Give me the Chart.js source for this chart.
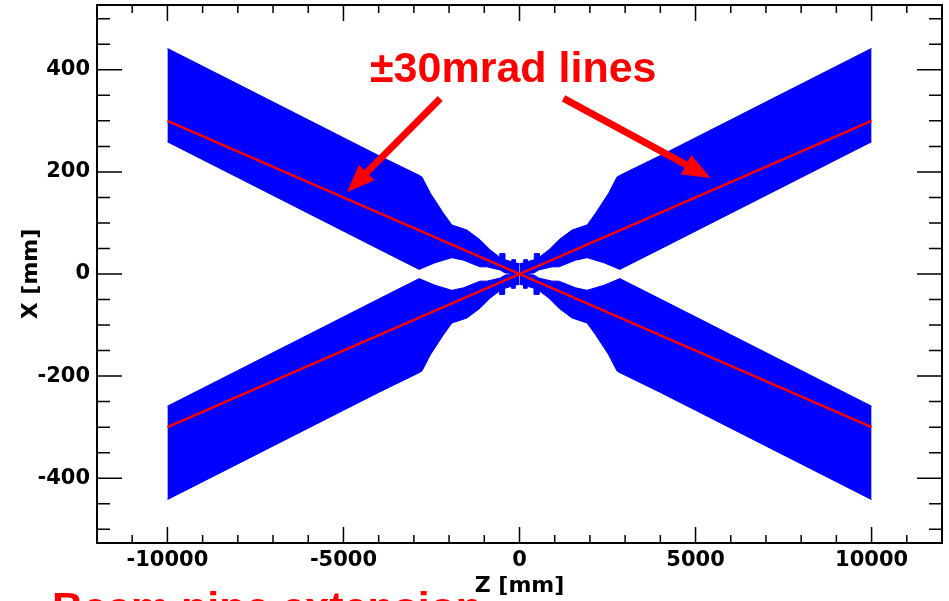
<!DOCTYPE html>
<html>
<head>
<meta charset="utf-8">
<script src="https://cdn.jsdelivr.net/npm/chart.js@4.4.1/dist/chart.umd.min.js"></script>
<style>
  html, body { margin: 0; padding: 0; background: #fff; }
  #wrap { width: 949px; height: 601px; position: relative; }
</style>
</head>
<body>
<div id="wrap"><canvas id="plot"></canvas></div>
<script>
// axis ranges + tick labels
var zRange = [-12000, 12000];
var xRange = [-527, 527];
var zTicks = [-10000, -5000, 0, 5000, 10000];
var xTicks = [-400, -200, 0, 200, 400];

// upper-left band (Z<0, X>0): outer edge
var outerZ = [-10000, -8000, -6000, -5000, -4000, -2870, -2770, -2530, -2160, -1920, -1700, -1490, -1120, -830, -600, -560, -560, -420, -420, -220, -220, -120, -120, 0];
var outerX = [442, 372, 302, 267, 232, 194, 190, 158, 119, 96, 91, 86, 67, 47, 35, 33, 40, 40, 28, 24, 28, 28, 22, 20];
// upper-left band: inner edge
var innerZ = [-10000, -8000, -6000, -4000, -2850, -2400, -1920, -1590, -1120, -925, -550, -405, 0];
var innerX = [259, 189, 119, 49, 9, 22, 32, 27, 14, 14, 8, 2, 0];

// +-30 mrad lines
var mradZ = [-10000, 10000];
var mradPlus = [-300, 300];
var mradMinus = [300, -300];

// annotation arrows (tail -> tip), data coords
var arrowTailZ = [-2250, 1250];
var arrowTailX = [344, 344];
var arrowTipZ = [-4900, 5430];
var arrowTipX = [160, 188];

var BLUE = '#0000ff';
var RED = '#ff0000';

// sz/sx = +1/-1 to mirror the band into the other quadrants
function edge(zs, xs, sz, sx) {
  var p = zs.map(function (z, i) { return { x: z * sz, y: xs[i] * sx }; });
  return sz < 0 ? p.reverse() : p;
}

var datasets = [
  { data: edge(mradZ, mradPlus, 1, 1), borderColor: RED, borderWidth: 2.5, fill: false, order: 0 },
  { data: edge(mradZ, mradMinus, 1, 1), borderColor: RED, borderWidth: 2.5, fill: false, order: 0 }
];
[[1, 1], [-1, 1], [1, -1], [-1, -1]].forEach(function (m) {
  datasets.push({ data: edge(outerZ, outerX, m[0], m[1]), borderColor: BLUE, backgroundColor: BLUE, borderWidth: 1, fill: '+1', order: 1 });
  datasets.push({ data: edge(innerZ, innerX, m[0], m[1]), borderColor: BLUE, borderWidth: 1, fill: false, order: 1 });
});

function drawArrow(ctx, x0, y0, x1, y1) {
  var dx = x1 - x0, dy = y1 - y0, L = Math.hypot(dx, dy);
  var ux = dx / L, uy = dy / L;
  var hl = 28, hw = 11;
  var bx = x1 - ux * hl, by = y1 - uy * hl;
  ctx.lineWidth = 7;
  ctx.lineCap = 'butt';
  ctx.beginPath();
  ctx.moveTo(x0, y0);
  ctx.lineTo(bx + ux * 2, by + uy * 2);
  ctx.stroke();
  ctx.beginPath();
  ctx.moveTo(x1, y1);
  ctx.lineTo(bx - uy * hw, by + ux * hw);
  ctx.lineTo(bx + uy * hw, by - ux * hw);
  ctx.closePath();
  ctx.fill();
}

// ROOT-like frame with inward ticks + the red annotations
var rootFrame = {
  id: 'rootFrame',
  afterDraw: function (chart) {
    var ctx = chart.ctx, a = chart.chartArea;
    var sx = chart.scales.x, sy = chart.scales.y;
    ctx.save();
    ctx.strokeStyle = '#000';
    ctx.lineWidth = 1.5;
    ctx.beginPath();
    for (var z = -12000; z <= 12000; z += 1000) {
      var px = sx.getPixelForValue(z);
      var len = (z % 5000 === 0) ? 16 : 8;
      ctx.moveTo(px, a.bottom); ctx.lineTo(px, a.bottom - len);
      ctx.moveTo(px, a.top); ctx.lineTo(px, a.top + len);
    }
    for (var v = -500; v <= 500; v += 50) {
      var py = sy.getPixelForValue(v);
      var l2 = (v % 200 === 0) ? 25 : 13;
      ctx.moveTo(a.left, py); ctx.lineTo(a.left + l2, py);
      ctx.moveTo(a.right, py); ctx.lineTo(a.right - l2, py);
    }
    ctx.stroke();
    ctx.lineWidth = 2;
    ctx.strokeRect(a.left, a.top, a.right - a.left, a.bottom - a.top);

    ctx.fillStyle = RED;
    ctx.strokeStyle = RED;
    for (var i = 0; i < arrowTailZ.length; i++) {
      drawArrow(ctx,
        sx.getPixelForValue(arrowTailZ[i]), sy.getPixelForValue(arrowTailX[i]),
        sx.getPixelForValue(arrowTipZ[i]), sy.getPixelForValue(arrowTipX[i]));
    }
    ctx.font = 'bold 43px "Liberation Sans", Arial, sans-serif';
    ctx.textBaseline = 'alphabetic';
    ctx.textAlign = 'left';
    ctx.fillText('\u00b130mrad lines', 370, 82);
    ctx.fillText('Beam pipe extension', 52, 622);
    ctx.restore();
  }
};

var tickFont = { family: 'DejaVu Sans', weight: 'bold', size: 21 };
var titleFont = { family: 'DejaVu Sans', weight: 'bold', size: 22 };
function plainLabel(v) { return String(v); }

new Chart(document.getElementById('plot'), {
  type: 'line',
  data: { datasets: datasets },
  plugins: [rootFrame],
  options: {
    responsive: true,
    maintainAspectRatio: false,
    animation: false,
    events: [],
    layout: { padding: { left: 0, right: 7, top: 5, bottom: 0 } },
    elements: { point: { radius: 0 }, line: { tension: 0 } },
    plugins: { legend: { display: false }, tooltip: { enabled: false } },
    scales: {
      x: {
        type: 'linear',
        min: zRange[0], max: zRange[1],
        afterBuildTicks: function (s) { s.ticks = zTicks.map(function (v) { return { value: v }; }); },
        afterFit: function (s) { s.height = 58; s.paddingLeft = 0; s.paddingRight = 0; },
        grid: { display: false, drawTicks: false },
        border: { display: false },
        ticks: { font: tickFont, color: '#000', padding: 5, maxRotation: 0, callback: plainLabel },
        title: { display: true, text: 'Z [mm]', font: titleFont, color: '#000', padding: { top: 0, bottom: 2 } }
      },
      y: {
        type: 'linear',
        min: xRange[0], max: xRange[1],
        afterBuildTicks: function (s) { s.ticks = xTicks.map(function (v) { return { value: v }; }); },
        afterFit: function (s) { s.width = 97; s.paddingTop = 0; s.paddingBottom = 0; },
        grid: { display: false, drawTicks: false },
        border: { display: false },
        ticks: { font: tickFont, color: '#000', padding: 7, callback: plainLabel },
        title: { display: true, text: 'X [mm]', font: titleFont, color: '#000', padding: { top: 18, bottom: 0 } }
      }
    }
  }
});
</script>
</body>
</html>
